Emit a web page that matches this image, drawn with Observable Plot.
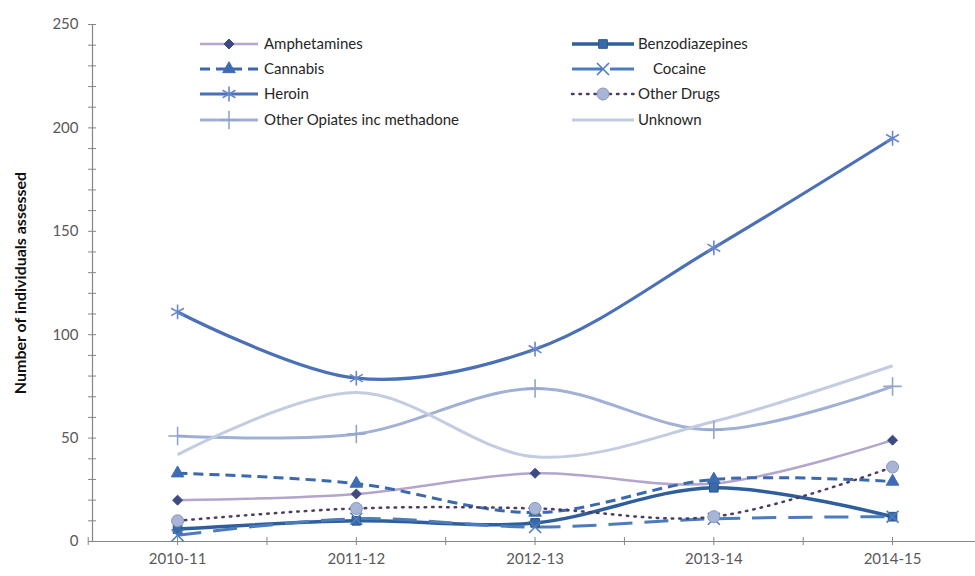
<!DOCTYPE html>
<html>
<head>
<meta charset="utf-8">
<script src="https://cdn.jsdelivr.net/npm/d3@7"></script>
<script src="https://cdn.jsdelivr.net/npm/@observablehq/plot@0.6"></script>
<style>
  html, body { margin: 0; padding: 0; background: #fff; }
  #wrap { position: relative; width: 975px; height: 576px; font-family: Lato, "Open Sans", sans-serif; }
  #legend { position: absolute; left: 0; top: 0; pointer-events: none; }
</style>
</head>
<body>
<div id="wrap"></div>
<script>
const years = ["2010-11", "2011-12", "2012-13", "2013-14", "2014-15"];
const amphetamines   = [20, 23, 33, 28, 49];
const benzodiazepines = [6, 10, 9, 26, 12];
const cannabis       = [33, 28, 14, 30, 29];
const cocaine        = [3, 11, 7, 11, 12];
const heroin         = [111, 79, 93, 142, 195];
const otherDrugs     = [10, 16, 16, 12, 36];
const otherOpiates   = [51, 52, 74, 54, 75];
const unknown        = [42, 72, 41, 58, 85];
const yTicks = [0, 50, 100, 150, 200, 250];

const seriesDefs = [
  {name: "Amphetamines", values: amphetamines, stroke: "#b3a5cb", width: 2.5, dash: null, symbol: "diamond2", r: 4.5, fill: "#3d4a85", mstroke: "#3d4a85"},
  {name: "Benzodiazepines", values: benzodiazepines, stroke: "#2f5e9d", width: 3.5, dash: null, symbol: "square2", r: 5.5, fill: "#3a69a9", mstroke: "#2a5590"},
  {name: "Cannabis", values: cannabis, stroke: "#3b69b0", width: 3, dash: "10,6", symbol: "triangle2", r: 6, fill: "#3d6cb3", mstroke: "#3d6cb3"},
  {name: "Cocaine", values: cocaine, stroke: "#4c7cbd", width: 3, dash: "24,12", symbol: "times", r: 5.5, fill: "none", mstroke: "#4c7cbd"},
  {name: "Heroin", values: heroin, stroke: "#4a70b6", width: 3.2, dash: null, symbol: "asterisk", r: 7, fill: "none", mstroke: "#6a86cc"},
  {name: "Other Drugs", values: otherDrugs, stroke: "#4c3c66", width: 2.5, dash: "1.5,6", symbol: "circle", r: 6, fill: "#a8b5d6", mstroke: "#8995ba"},
  {name: "Other Opiates inc methadone", values: otherOpiates, stroke: "#a1b1d6", width: 3, dash: null, symbol: "plus", r: 6, fill: "none", mstroke: "#94a4cc"},
  {name: "Unknown", values: unknown, stroke: "#c3cce0", width: 3, dash: null, symbol: null, r: 0, fill: "none", mstroke: "none"}
];

const rows = seriesDefs.map(s => s.values.map((v, i) => ({series: s.name, i, value: v})));

const marks = [];
marks.push(Plot.ruleY([0], {stroke: "#868686", strokeWidth: 1.2}));
marks.push(Plot.ruleX([-0.476], {stroke: "#868686", strokeWidth: 1.2}));
marks.push(Plot.axisY({ticks: yTicks, tickSize: 0, tickPadding: 14, fontSize: 15, color: "#595959",
  label: "Number of individuals assessed", labelAnchor: "center", labelOffset: 78, labelArrow: "none"}));
marks.push(Plot.axisY({ticks: d3.range(0, 251, 10), tickSize: 4, tickFormat: () => "", stroke: "#868686", label: null}));
marks.push(Plot.axisY({ticks: d3.range(0, 251, 10), tickSize: -4, tickFormat: () => "", stroke: "#868686", label: null}));
marks.push(Plot.axisX({ticks: d3.range(0, 5), tickFormat: i => years[i], tickSize: 0, tickPadding: 12, fontSize: 15, color: "#595959", label: null}));
marks.push(Plot.axisX({ticks: d3.range(-0.5, 4.6, 0.5), tickSize: 4, tickFormat: () => "", stroke: "#868686", label: null}));
marks.push(Plot.axisX({ticks: d3.range(-0.5, 4.6, 0.5), tickSize: -4, tickFormat: () => "", stroke: "#868686", label: null}));

seriesDefs.forEach((s, k) => {
  marks.push(Plot.line(rows[k], {x: "i", y: "value", curve: "catmull-rom", stroke: s.stroke, strokeWidth: s.width,
    strokeDasharray: s.dash, strokeLinecap: s.name === "Other Drugs" ? "round" : "butt"}));
});
seriesDefs.forEach((s, k) => {
  if (!s.symbol) return;
  marks.push(Plot.dot(rows[k], {x: "i", y: "value", symbol: s.symbol, r: s.r, fill: s.fill, stroke: s.mstroke, strokeWidth: s.fill === "none" ? 1.6 : 1}));
});

const chart = Plot.plot({
  width: 975,
  height: 576,
  marginLeft: 92,
  marginRight: 0,
  marginTop: 24,
  marginBottom: 35,
  style: {fontFamily: "Lato, 'Open Sans', sans-serif", background: "#fff"},
  x: {type: "linear", domain: [-0.476, 4.464], axis: null},
  y: {domain: [0, 250], axis: null},
  marks
});
chart.querySelectorAll('[aria-label="y-axis label"] text, [aria-label="y-axis label"]').forEach(t => {
  t.setAttribute("font-weight", "bold"); t.setAttribute("fill", "#111"); t.setAttribute("font-size", "16");
});
document.getElementById("wrap").appendChild(chart);

const leg = d3.select("#wrap").append("svg").attr("id", "legend").attr("width", 975).attr("height", 576)
  .style("font-family", "Lato, 'Open Sans', sans-serif");
const symMap = {diamond2: d3.symbolDiamond2, square2: d3.symbolSquare2, triangle2: d3.symbolTriangle2,
  times: d3.symbolTimes, asterisk: d3.symbolAsterisk, circle: d3.symbolCircle, plus: d3.symbolPlus};
const colX = [{sw0: 200, sw1: 258, tx: 264}, {sw0: 572, sw1: 634, tx: 638}];
const rowY = [44, 69, 94, 120];
seriesDefs.forEach((s, k) => {
  const c = colX[k % 2], y = rowY[Math.floor(k / 2)];
  const g = leg.append("g");
  g.append("line").attr("x1", c.sw0).attr("x2", c.sw1).attr("y1", y).attr("y2", y)
    .attr("stroke", s.stroke).attr("stroke-width", s.width)
    .attr("stroke-dasharray", s.dash ? (s.name === "Cocaine" ? "30,8" : s.dash) : null)
    .attr("stroke-linecap", s.name === "Other Drugs" ? "round" : "butt");
  if (s.symbol) {
    const size = Math.PI * s.r * s.r;
    g.append("path").attr("d", d3.symbol(symMap[s.symbol], size)())
      .attr("transform", `translate(${(c.sw0 + c.sw1) / 2},${y})`)
      .attr("fill", s.fill).attr("stroke", s.mstroke).attr("stroke-width", s.fill === "none" ? 1.6 : 1);
  }
  g.append("text").attr("x", s.name === "Cocaine" ? c.tx + 15 : c.tx).attr("y", y).attr("dy", "0.35em")
    .attr("font-size", 15).attr("fill", "#262626").text(s.name);
});
</script>
</body>
</html>
